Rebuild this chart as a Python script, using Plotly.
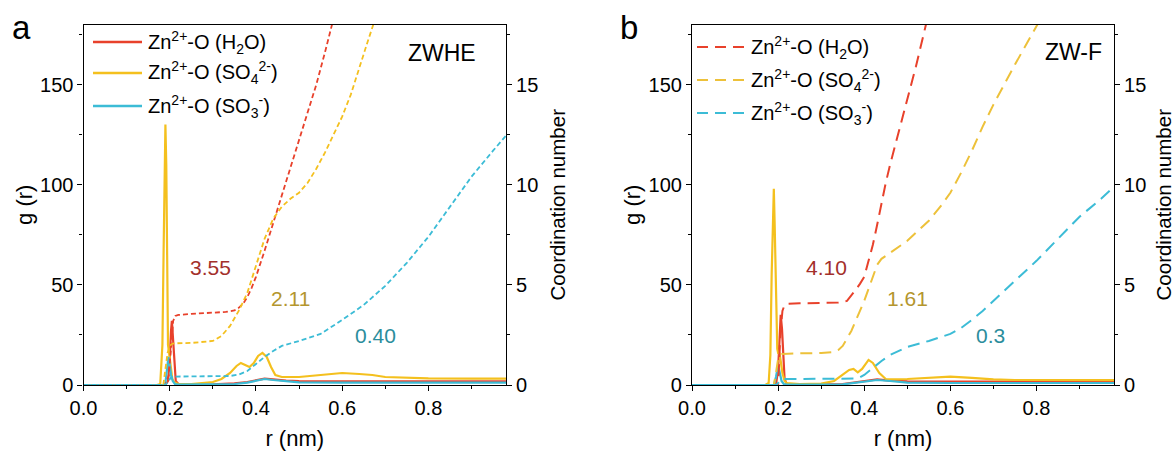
import plotly.graph_objects as go

# ---------------- ZWHE : radial distribution functions g(r) ----------------
zwhe_gr_h2o_r = [0, 0.19, 0.196, 0.2, 0.203, 0.205, 0.208, 0.211, 0.214, 0.22, 0.25, 0.3, 0.35,
                 0.38, 0.4, 0.42, 0.44, 0.47, 0.5, 0.6, 0.7, 0.8, 0.98]
zwhe_gr_h2o = [0, 0, 2, 12, 27, 32, 22, 8, 2, 0.5, 0.2, 0.3, 0.8,
               1.5, 2.5, 3.2, 2.8, 2.2, 2.0, 2.0, 1.8, 1.8, 1.8]

zwhe_gr_so4_r = [0, 0.17, 0.178, 0.183, 0.186, 0.188, 0.19, 0.192, 0.194, 0.196,
                 0.198, 0.2, 0.203, 0.206, 0.21, 0.215, 0.22, 0.25, 0.3, 0.32,
                 0.34, 0.355, 0.365, 0.375, 0.385, 0.395, 0.405, 0.415, 0.425, 0.435,
                 0.445, 0.46, 0.5, 0.55, 0.6, 0.64, 0.67, 0.7, 0.75, 0.8, 0.9, 0.98]
zwhe_gr_so4 = [0, 0, 0.5, 20, 70, 115, 130, 110, 50, 20,
               17, 14, 7, 3, 1.5, 0.8, 0.5, 0.5, 1.5, 3,
               6, 9.5, 11, 10, 9, 11, 14.5, 16, 14, 9,
               5, 4, 4, 5, 6, 5.5, 5, 4, 3.5, 3.3, 3.2, 3.2]

zwhe_gr_so3_r = [0, 0.185, 0.19, 0.194, 0.197, 0.2, 0.203, 0.207, 0.212, 0.22, 0.3,
                 0.35, 0.38, 0.4, 0.42, 0.44, 0.47, 0.5, 0.6, 0.8, 0.98]
zwhe_gr_so3 = [0, 0, 1, 8, 14, 10, 5, 2, 0.5, 0.2, 0.2,
               0.5, 1.2, 2.2, 3, 2.5, 1.8, 1.3, 1.2, 1.2, 1.2]

# ---------------- ZWHE : running coordination numbers ----------------
zwhe_cn_h2o_r = [0, 0.19, 0.198, 0.203, 0.208, 0.213, 0.22, 0.25, 0.3, 0.33, 0.35, 0.36, 0.37,
                 0.38, 0.39, 0.4, 0.42, 0.44, 0.46, 0.48, 0.5, 0.52, 0.54, 0.56, 0.58]
zwhe_cn_h2o = [0, 0, 0.5, 2.0, 3.2, 3.45, 3.5, 3.55, 3.6, 3.65, 3.72, 3.85, 4.05,
               4.4, 4.85, 5.4, 6.7, 8.1, 9.5, 10.8, 12.2, 13.6, 15.0, 16.6, 18.3]

zwhe_cn_so4_r = [0, 0.185, 0.19, 0.195, 0.2, 0.205, 0.21, 0.25, 0.3, 0.32,
                 0.34, 0.36, 0.38, 0.4, 0.42, 0.44, 0.46, 0.48, 0.5, 0.52,
                 0.54, 0.56, 0.58, 0.6, 0.62, 0.64, 0.66, 0.68]
zwhe_cn_so4 = [0, 0, 0.8, 1.6, 1.95, 2.05, 2.08, 2.1, 2.2, 2.45,
               2.95, 3.7, 4.6, 5.9, 7.3, 8.3, 8.9, 9.3, 9.6, 10.1,
               10.8, 11.6, 12.5, 13.4, 14.5, 15.9, 17.2, 18.5]

zwhe_cn_so3_r = [0, 0.19, 0.197, 0.203, 0.21, 0.3, 0.34, 0.36, 0.38, 0.4, 0.42, 0.44,
                 0.46, 0.5, 0.55, 0.6, 0.65, 0.7, 0.75, 0.8, 0.85, 0.9, 0.95, 0.98]
zwhe_cn_so3 = [0, 0, 0.2, 0.38, 0.42, 0.42, 0.45, 0.52, 0.7, 1.05, 1.4, 1.7,
               1.95, 2.2, 2.55, 3.25, 4.0, 4.95, 6.1, 7.4, 8.9, 10.4, 11.7, 12.45]

# ---------------- ZW-F : radial distribution functions g(r) ----------------
zwf_gr_h2o_r = [0, 0.195, 0.2, 0.203, 0.206, 0.209, 0.212, 0.215, 0.22, 0.25, 0.35,
                0.4, 0.43, 0.46, 0.5, 0.6, 0.98]
zwf_gr_h2o = [0, 0, 8, 25, 35, 28, 12, 3, 0.5, 0.2, 0.5,
              2, 2.8, 2.2, 1.8, 1.7, 1.7]

zwf_gr_so4_r = [0, 0.17, 0.178, 0.182, 0.185, 0.188, 0.19, 0.192, 0.195, 0.198,
                0.2, 0.203, 0.206, 0.21, 0.215, 0.22, 0.25, 0.3, 0.33, 0.35,
                0.365, 0.375, 0.385, 0.395, 0.41, 0.42, 0.435, 0.45, 0.47, 0.5,
                0.55, 0.6, 0.65, 0.7, 0.75, 0.8, 0.9, 0.98]
zwf_gr_so4 = [0, 0, 1, 15, 55, 90, 98, 80, 40, 18,
              16, 16, 12, 6, 2, 1, 0.5, 0.7, 2, 5,
              7.5, 8, 6.3, 8, 12.5, 11, 6, 3, 2.8, 3,
              3.5, 4.2, 3.6, 2.8, 2.5, 2.5, 2.4, 2.4]

zwf_gr_so3_r = [0, 0.19, 0.195, 0.2, 0.204, 0.208, 0.213, 0.22, 0.35, 0.4, 0.43,
                0.46, 0.5, 0.6, 0.98]
zwf_gr_so3 = [0, 0, 4, 10, 6, 2, 0.5, 0.2, 0.3, 1.5, 2.5,
              2, 1.2, 1, 1]

# ---------------- ZW-F : running coordination numbers ----------------
zwf_cn_h2o_r = [0, 0.2, 0.205, 0.21, 0.215, 0.22, 0.25, 0.3, 0.34, 0.36,
                0.37, 0.38, 0.39, 0.4, 0.41, 0.42, 0.43, 0.44, 0.45, 0.46,
                0.48, 0.5, 0.52, 0.54, 0.55]
zwf_cn_h2o = [0, 0, 2.5, 3.7, 4.0, 4.05, 4.08, 4.1, 4.12, 4.2,
              4.45, 4.75, 5.05, 5.4, 6.2, 7.0, 8.0, 9.1, 10.1, 11.0,
              12.6, 14.2, 15.9, 17.7, 18.6]

zwf_cn_so4_r = [0, 0.19, 0.195, 0.2, 0.205, 0.21, 0.25, 0.3, 0.33, 0.34,
                0.35, 0.36, 0.37, 0.38, 0.39, 0.4, 0.41, 0.42, 0.43, 0.44,
                0.45, 0.46, 0.48, 0.5, 0.52, 0.55, 0.58, 0.6, 0.625, 0.65,
                0.675, 0.7, 0.75, 0.8, 0.81]
zwf_cn_so4 = [0, 0, 0.6, 1.3, 1.5, 1.55, 1.58, 1.6, 1.65, 1.75,
              1.95, 2.3, 2.7, 3.2, 3.7, 4.2, 4.8, 5.4, 6.0, 6.3,
              6.45, 6.6, 6.9, 7.2, 7.6, 8.2, 9.0, 9.6, 10.6, 11.7,
              12.9, 14.0, 16.0, 17.9, 18.3]

zwf_cn_so3_r = [0, 0.195, 0.2, 0.205, 0.21, 0.3, 0.38, 0.39, 0.4, 0.42, 0.44, 0.46,
                0.48, 0.5, 0.55, 0.6, 0.625, 0.65, 0.675, 0.7, 0.75, 0.8, 0.85, 0.9,
                0.95, 0.98]
zwf_cn_so3 = [0, 0, 0.1, 0.25, 0.3, 0.3, 0.32, 0.38, 0.5, 0.85, 1.2, 1.5,
              1.7, 1.9, 2.2, 2.55, 2.85, 3.25, 3.7, 4.2, 5.2, 6.2, 7.3, 8.4,
              9.3, 9.9]

# first-shell coordination numbers written next to the curves
zwhe_cn_labels = ["3.55", "2.11", "0.40"]
zwhe_cn_label_pos = [(0.295, 58.8), (0.479, 43.0), (0.677, 24.6)]
zwf_cn_labels = ["4.10", "1.61", "0.3"]
zwf_cn_label_pos = [(0.312, 58.8), (0.50, 43.0), (0.693, 24.6)]

series_names = ["Zn<sup>2+</sup>-O (H<sub>2</sub>O)",
                "Zn<sup>2+</sup>-O (SO<sub>4</sub><sup>2-</sup>)",
                "Zn<sup>2+</sup>-O (SO<sub>3</sub><sup>-</sup>)"]
panel_titles = ["ZWHE", "ZW-F"]

# ---------------- styling ----------------
W, H = 1175, 452
FONT = "Liberation Sans, Arial, Helvetica, sans-serif"
C_RED, C_YEL, C_CYA = "#E8412B", "#F4C01E", "#3CBCD6"
C_YEL_DASH = "#EDC13A"
LABEL_COLORS = ["#A3302B", "#B4962E", "#2B8D9C"]


def px(x):
    return x / W


def py(y):
    return 1 - y / H


x_dom_a = [px(83.5), px(506)]
x_dom_b = [px(692), px(1114)]
y_dom = [py(385), py(24.5)]

fig = go.Figure()

panels = [
    dict(x="x", yg="y", ycn="y2",
         gr=[(zwhe_gr_h2o_r, zwhe_gr_h2o, C_RED), (zwhe_gr_so4_r, zwhe_gr_so4, C_YEL),
             (zwhe_gr_so3_r, zwhe_gr_so3, C_CYA)],
         cn=[(zwhe_cn_h2o_r, zwhe_cn_h2o, C_RED), (zwhe_cn_so4_r, zwhe_cn_so4, C_YEL),
             (zwhe_cn_so3_r, zwhe_cn_so3, C_CYA)],
         dash="5px,3px", dash_w=1.8),
    dict(x="x2", yg="y3", ycn="y4",
         gr=[(zwf_gr_h2o_r, zwf_gr_h2o, C_RED), (zwf_gr_so4_r, zwf_gr_so4, C_YEL),
             (zwf_gr_so3_r, zwf_gr_so3, C_CYA)],
         cn=[(zwf_cn_h2o_r, zwf_cn_h2o, C_RED), (zwf_cn_so4_r, zwf_cn_so4, C_YEL_DASH),
             (zwf_cn_so3_r, zwf_cn_so3, C_CYA)],
         dash="12px,7px", dash_w=2.0),
]

for p in panels:
    for (r, g, c), name in zip(p["gr"], series_names):
        fig.add_trace(go.Scatter(x=r, y=g, mode="lines", name=name, showlegend=False,
                                 line=dict(color=c, width=2.2), xaxis=p["x"], yaxis=p["yg"],
                                 hoverinfo="skip"))
    for (r, n, c), name in zip(p["cn"], series_names):
        fig.add_trace(go.Scatter(x=r, y=n, mode="lines", name=name, showlegend=False,
                                 line=dict(color=c, width=p["dash_w"], dash=p["dash"]),
                                 xaxis=p["x"], yaxis=p["ycn"], hoverinfo="skip"))

tick_font = dict(family=FONT, size=20, color="black")
title_font = dict(family=FONT, size=22, color="black")
axis_common = dict(showline=True, linecolor="black", linewidth=1.2, ticks="outside",
                   ticklen=5, tickwidth=1.2, tickcolor="black", tickfont=tick_font,
                   showgrid=False, zeroline=False, automargin=False)

xaxis_cfg = dict(axis_common, range=[0, 0.98], tickvals=[0, 0.2, 0.4, 0.6, 0.8],
                 ticktext=["0.0", "0.2", "0.4", "0.6", "0.8"], mirror=True,
                 minor=dict(dtick=0.1, tick0=0, ticks="outside", ticklen=3, tickcolor="black"),
                 title=dict(text="r (nm)", font=title_font, standoff=12))
ygr_cfg = dict(axis_common, range=[0, 180], tickvals=[0, 50, 100, 150],
               minor=dict(dtick=25, tick0=0, ticks="outside", ticklen=3, tickcolor="black"),
               title=dict(text="g (r)", font=title_font, standoff=1))
ycn_cfg = dict(axis_common, range=[0, 18], tickvals=[0, 5, 10, 15], side="right",
               minor=dict(dtick=2.5, tick0=0, ticks="outside", ticklen=3, tickcolor="black"),
               title=dict(text="Coordination number",
                          font=dict(family=FONT, size=20.5, color="black"), standoff=13))

fig.update_layout(
    width=W, height=H, margin=dict(l=0, r=0, t=0, b=0),
    paper_bgcolor="white", plot_bgcolor="white", showlegend=False,
    font=dict(family=FONT, color="black"),
    xaxis=dict(xaxis_cfg, domain=x_dom_a, anchor="y"),
    yaxis=dict(ygr_cfg, domain=y_dom, anchor="x"),
    yaxis2=dict(ycn_cfg, overlaying="y", anchor="x"),
    xaxis2=dict(xaxis_cfg, domain=x_dom_b, anchor="y3"),
    yaxis3=dict(ygr_cfg, domain=y_dom, anchor="x2"),
    yaxis4=dict(ycn_cfg, overlaying="y3", anchor="x2"),
)

annotations = []
shapes = []

# coordination-number labels
for xref, yref, labels, pos in [("x", "y", zwhe_cn_labels, zwhe_cn_label_pos),
                                ("x2", "y3", zwf_cn_labels, zwf_cn_label_pos)]:
    for txt, (xv, yv), col in zip(labels, pos, LABEL_COLORS):
        annotations.append(dict(x=xv, y=yv, xref=xref, yref=yref, text=txt, showarrow=False,
                                xanchor="center", yanchor="middle",
                                font=dict(family=FONT, size=21, color=col)))

# panel letters and system names
centered = dict(showarrow=False, xanchor="center", yanchor="middle")
annotations += [
    dict(centered, x=px(21), y=py(27), xref="paper", yref="paper", text="a",
         font=dict(family=FONT, size=33, color="black")),
    dict(centered, x=px(629), y=py(27), xref="paper", yref="paper", text="b",
         font=dict(family=FONT, size=33, color="black")),
    dict(centered, x=0.8485, y=0.921, xref="x domain", yref="y domain", text=panel_titles[0],
         font=dict(family=FONT, size=23, color="black")),
    dict(centered, x=0.905, y=0.924, xref="x2 domain", yref="y3 domain", text=panel_titles[1],
         font=dict(family=FONT, size=23, color="black")),
]

# legends: solid samples for g(r) in panel a, dashed samples for CN in panel b
leg_a = dict(x0=93, x1=142, tx=146, rows=[42, 73, 106], colors=[C_RED, C_YEL, C_CYA],
             dash="solid", width=2.6)
leg_b = dict(x0=697, x1=745, tx=749, rows=[47, 80, 113], colors=[C_RED, C_YEL_DASH, C_CYA],
             dash="11px,7px", width=2.0)
for leg in (leg_a, leg_b):
    for yrow, col, name in zip(leg["rows"], leg["colors"], series_names):
        shapes.append(dict(type="line", xref="paper", yref="paper",
                           x0=px(leg["x0"]), x1=px(leg["x1"]), y0=py(yrow), y1=py(yrow),
                           line=dict(color=col, width=leg["width"], dash=leg["dash"])))
        annotations.append(dict(x=px(leg["tx"]), y=py(yrow), xref="paper", yref="paper",
                                text=name, showarrow=False, xanchor="left", yanchor="middle",
                                font=dict(family=FONT, size=20, color="black")))

fig.update_layout(annotations=annotations, shapes=shapes)

fig.write_html("out.html")
